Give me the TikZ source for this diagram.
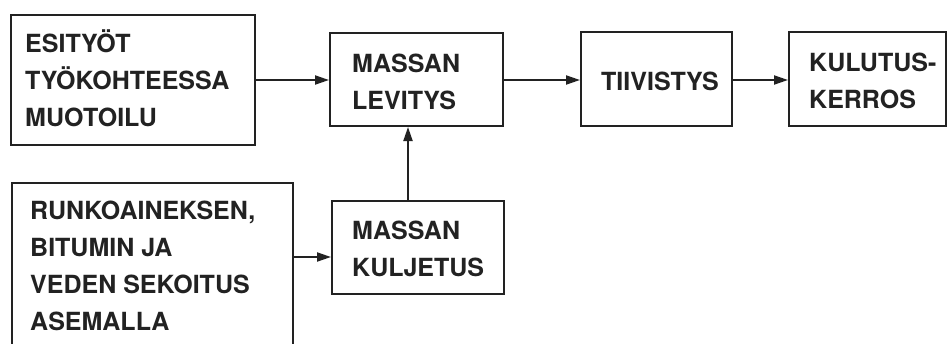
\documentclass[tikz,border=0pt]{standalone}
\usepackage{fontspec}
\setmainfont{TeX Gyre Heros}
\usetikzlibrary{arrows.meta}
\definecolor{ink}{HTML}{222222}
\begin{document}
\begin{tikzpicture}[x=1pt,y=-1pt,
  box/.style={draw=ink, line width=2pt, rectangle, inner sep=0pt, anchor=center},
  txt/.style={inner sep=0pt, anchor=base west, align=left, text=ink,
    font=\fontsize{25}{37}\selectfont\bfseries},
  arr/.style={draw=ink, line width=2pt, -{Triangle[length=14pt,width=9pt]}}]
\useasboundingbox (0,0) rectangle (949,343);
\fill[white] (0,0) rectangle (949,343);
\clip (0,0) rectangle (949,343);
% boxes
\node[box, minimum width=244pt, minimum height=130pt] (b1) at (133,80) {};
\node[box, minimum width=173pt, minimum height=93pt] (b2) at (416.5,79.5) {};
\node[box, minimum width=151pt, minimum height=94pt] (b3) at (656.5,79) {};
\node[box, minimum width=157pt, minimum height=94pt] (b4) at (867.5,79) {};
\node[box, minimum width=281pt, minimum height=166pt] (b5) at (152.5,266) {};
\node[box, minimum width=172pt, minimum height=93pt] (b6) at (418,247.5) {};
% texts (anchor = baseline of the last line)
\node[txt] (t1) at (25,126) {ESITYÖT\\TYÖKOHTEESSA\\MUOTOILU};
\node[txt] (t2) at (352,109) {MASSAN\\LEVITYS};
\node[txt] (t3) at (601,90) {TIIVISTYS};
\node[txt] (t4) at (809,108) {KULUTUS-\\KERROS};
\node[txt] (t5) at (30,330) {RUNKOAINEKSEN,\\BITUMIN JA\\VEDEN SEKOITUS\\ASEMALLA};
\node[txt] (t6) at (352,276) {MASSAN\\KULJETUS};
% connectors
\draw[arr] (b1.east |- 0,80) -- (b2.west |- 0,80);
\draw[arr] (b2.east |- 0,80) -- (b3.west |- 0,80);
\draw[arr] (b3.east |- 0,80) -- (b4.west |- 0,80);
\draw[arr] (b5.east |- 0,257) -- (b6.west |- 0,257);
\draw[arr] (b6.north -| 408,0) -- (b2.south -| 408,0);
\end{tikzpicture}
\end{document}
